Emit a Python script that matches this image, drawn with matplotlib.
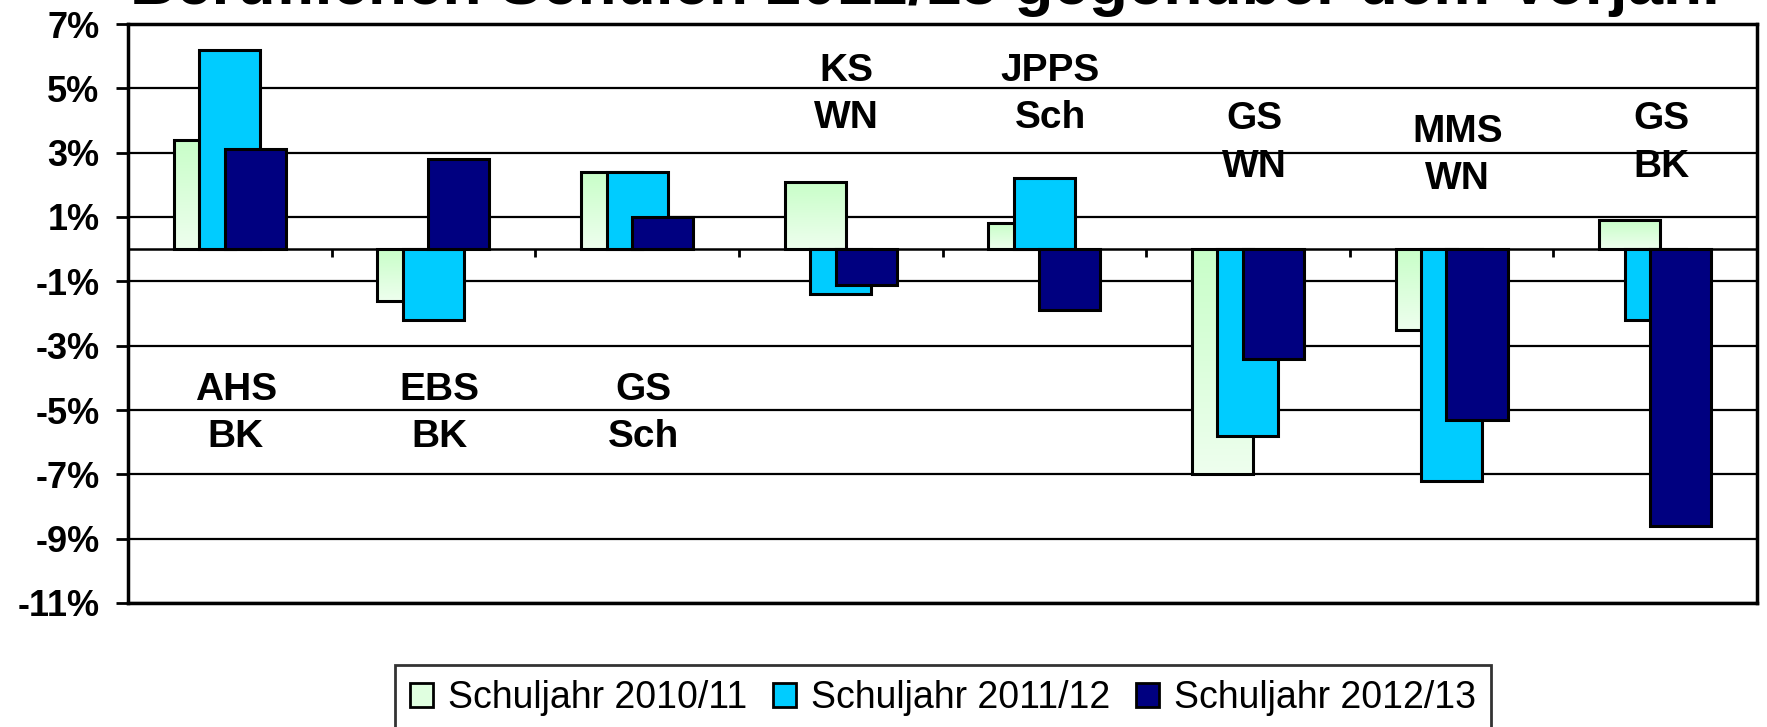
import numpy as np
import matplotlib.pyplot as plt
from matplotlib.patches import Patch
from matplotlib.colors import LinearSegmentedColormap

plt.rcParams['font.family'] = ['Liberation Sans', 'DejaVu Sans']

# data (percent change against previous year)
schools = ['AHS\nBK', 'EBS\nBK', 'GS\nSch', 'KS\nWN', 'JPPS\nSch', 'GS\nWN', 'MMS\nWN', 'GS\nBK']
series = ['Schuljahr 2010/11', 'Schuljahr 2011/12', 'Schuljahr 2012/13']
sj_2010 = [3.4, -1.6, 2.4, 2.1, 0.8, -7.0, -2.5, 0.9]
sj_2011 = [6.2, -2.2, 2.4, -1.4, 2.2, -5.8, -7.2, -2.2]
sj_2012 = [3.1, 2.8, 1.0, -1.1, -1.9, -3.4, -5.3, -8.6]
yticks = [7, 5, 3, 1, -1, -3, -5, -7, -9, -11]

title = 'Beruflichen Schulen 2012/13 gegenüber dem Vorjahr'

green_top = '#c8ffc8'
green_bot = '#eefeee'
cyan = '#00ccff'
navy = '#000080'

fig = plt.figure(figsize=(17.67, 7.27), dpi=100)
ax = fig.add_axes([128/1767, 1-603/727, 1629/1767, 579/727])

x = np.arange(len(schools))
w = 0.30
off = 0.125

# green bars: outline only, gradient image below the outline
b1 = ax.bar(x - off, sj_2010, w, facecolor='none', edgecolor='black', linewidth=2.2, zorder=2.2)
cmap = LinearSegmentedColormap.from_list('g', [green_top, green_bot])
grad = np.linspace(0, 1, 128).reshape(-1, 1)
for p in b1.patches:
    x0 = p.get_x()
    y0, y1 = sorted([p.get_y(), p.get_y() + p.get_height()])
    im = ax.imshow(grad, cmap=cmap, extent=[x0, x0 + p.get_width(), y0, y1],
                   origin='upper', aspect='auto', zorder=2.1)
    im.set_clip_path(p)
ax.bar(x, sj_2011, w, color=cyan, edgecolor='black', linewidth=2.2, zorder=3)
ax.bar(x + off, sj_2012, w, color=navy, edgecolor='black', linewidth=2.2, zorder=4)

ax.set_xlim(-0.5, len(schools) - 0.5)
ax.set_ylim(-11, 7)
ax.set_yticks(yticks)
ax.set_yticklabels([f'{t}%' for t in yticks], fontsize=26, fontweight='bold')
ax.set_xticks([])
ax.tick_params(axis='y', length=8.5, width=2, pad=12)
ax.grid(axis='y', color='black', linewidth=1.6)
ax.set_axisbelow(True)
ax.axhline(0, color='black', linewidth=1.8, zorder=1.5)
ax.vlines(x[:-1] + 0.5, -0.25, 0, color='black', linewidth=2, zorder=1.5)
for s in ax.spines.values():
    s.set_linewidth(2.5)

# school labels
lab_y = [-5.1, -5.1, -5.1, 4.8, 4.8, 3.3, 2.9, 3.3]
for xi, name, yy in zip(x, schools, lab_y):
    ax.text(xi + 0.03, yy, name, ha='center', va='center', fontsize=28,
            fontweight='bold', linespacing=1.4, zorder=5)

# title, clipped at top as in the source
fig.text(130/1767, 1 - 4/727, title, ha='left', va='baseline', fontsize=46, fontweight='bold')

handles = [Patch(facecolor='#e0ffe0', edgecolor='black', linewidth=2),
           Patch(facecolor=cyan, edgecolor='black', linewidth=2),
           Patch(facecolor=navy, edgecolor='black', linewidth=2)]
leg = fig.legend(handles, series, loc='upper center', bbox_to_anchor=(943/1767, 1 - 665/727),
                 ncol=3, fontsize=27, frameon=True, fancybox=False, edgecolor='black',
                 handlelength=0.6, handleheight=0.6, handletextpad=0.4, columnspacing=0.7,
                 borderpad=0.4, borderaxespad=0)
leg.get_frame().set_linewidth(2)

fig.savefig('out.png', dpi=100)
